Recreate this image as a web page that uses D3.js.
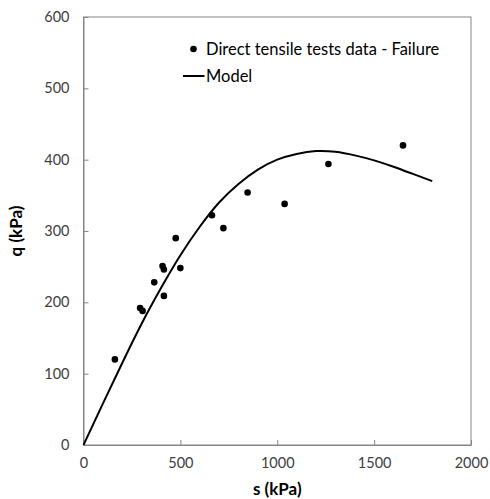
<!DOCTYPE html>
<html>
<head>
<meta charset="utf-8">
<script src="https://cdn.jsdelivr.net/npm/d3@7"></script>
<style>
  body { margin: 0; background: #fff; }
  text { font-family: Lato, "Open Sans", sans-serif; }
</style>
</head>
<body>
<div class="vis-scatter"></div>
<script>
// test data (failure points)
const sData = [162, 292, 305, 365, 408, 415, 415, 476, 500, 663, 722, 847, 1038, 1264, 1649];
const qData = [120, 192, 188, 228, 251, 246, 209, 290, 248, 322, 304, 354, 338, 394, 420];

// model curve
const sModel = [0, 100, 200, 300, 400, 500, 600, 700, 800, 900, 1000, 1100, 1200, 1300, 1400, 1500, 1600, 1700, 1800];
const qModel = [0, 58, 115, 170, 220, 266, 306, 340, 366, 386, 400, 408, 412, 411, 406, 399, 390, 380, 370];

const xTicks = [0, 500, 1000, 1500, 2000];
const yTicks = [0, 100, 200, 300, 400, 500, 600];

const margin = { top: 17, right: 19, bottom: 54, left: 83.5 };
const W = 490, H = 499;
const width = W - margin.left - margin.right;
const height = H - margin.top - margin.bottom;

let svg = d3
  .select('.vis-scatter')
  .append('svg')
  .attr('width', W)
  .attr('height', H)
  .append('g')
  .attr('transform', 'translate(' + margin.left + ',' + margin.top + ')');

let x = d3.scaleLinear().domain([0, 2000]).range([0, width]);
let y = d3.scaleLinear().domain([0, 600]).range([height, 0]);

// frame
svg
  .append('rect')
  .attr('width', width)
  .attr('height', height)
  .attr('fill', 'none')
  .attr('stroke', '#868686')
  .attr('stroke-width', 1);

let xAxis = svg
  .append('g')
  .attr('transform', 'translate(0,' + height + ')')
  .call(d3.axisBottom(x).tickValues(xTicks).tickFormat(d3.format('d')).tickSizeInner(-5).tickSizeOuter(0).tickPadding(13));
let yAxis = svg
  .append('g')
  .call(d3.axisLeft(y).tickValues(yTicks).tickFormat(d3.format('d')).tickSizeInner(-5).tickSizeOuter(0).tickPadding(14));

[xAxis, yAxis].forEach((a) => {
  a.select('.domain').attr('stroke', '#868686');
  a.selectAll('.tick line').attr('stroke', '#868686');
  a.selectAll('.tick text').attr('fill', '#404040').style('font-size', '14.5px').style('font-family', 'Lato, sans-serif');
});

// model line
let line = d3
  .line()
  .x((d, i) => x(sModel[i]))
  .y((d) => y(d))
  .curve(d3.curveNatural);

svg
  .append('path')
  .datum(qModel)
  .attr('d', line)
  .attr('fill', 'none')
  .attr('stroke', '#000')
  .attr('stroke-width', 2);

// points
svg
  .selectAll('circle.pt')
  .data(qData)
  .enter()
  .append('circle')
  .attr('class', 'pt')
  .attr('cx', (d, i) => x(sData[i]))
  .attr('cy', (d) => y(d))
  .attr('r', 3.3)
  .attr('fill', '#000');

// legend
let legend = svg.append('g').attr('transform', 'translate(' + (193.5 - margin.left) + ',' + (49 - margin.top) + ')');
legend.append('circle').attr('cx', 0).attr('cy', 0).attr('r', 3.3).attr('fill', '#000');
legend
  .append('text')
  .attr('x', 12.5)
  .attr('y', 0)
  .attr('dy', '0.35em')
  .style('font-size', '16.5px')
  .attr('fill', '#000')
  .text('Direct tensile tests data - Failure');
legend.append('line').attr('x1', -10.5).attr('x2', 11).attr('y1', 27).attr('y2', 27).attr('stroke', '#000').attr('stroke-width', 2);
legend
  .append('text')
  .attr('x', 12.5)
  .attr('y', 27)
  .attr('dy', '0.35em')
  .style('font-size', '16.5px')
  .attr('fill', '#000')
  .text('Model');

// axis titles
svg
  .append('text')
  .attr('x', width / 2)
  .attr('y', height + 50)
  .attr('text-anchor', 'middle')
  .style('font-size', '17px')
  .style('font-weight', 'bold')
  .attr('fill', '#000')
  .text('s (kPa)');

svg
  .append('text')
  .attr('transform', 'translate(' + (16 - margin.left) + ',' + height / 2 + ') rotate(-90)')
  .attr('text-anchor', 'middle')
  .attr('dy', '0.35em')
  .style('font-size', '17px')
  .style('font-weight', 'bold')
  .attr('fill', '#000')
  .text('q (kPa)');
</script>
</body>
</html>
